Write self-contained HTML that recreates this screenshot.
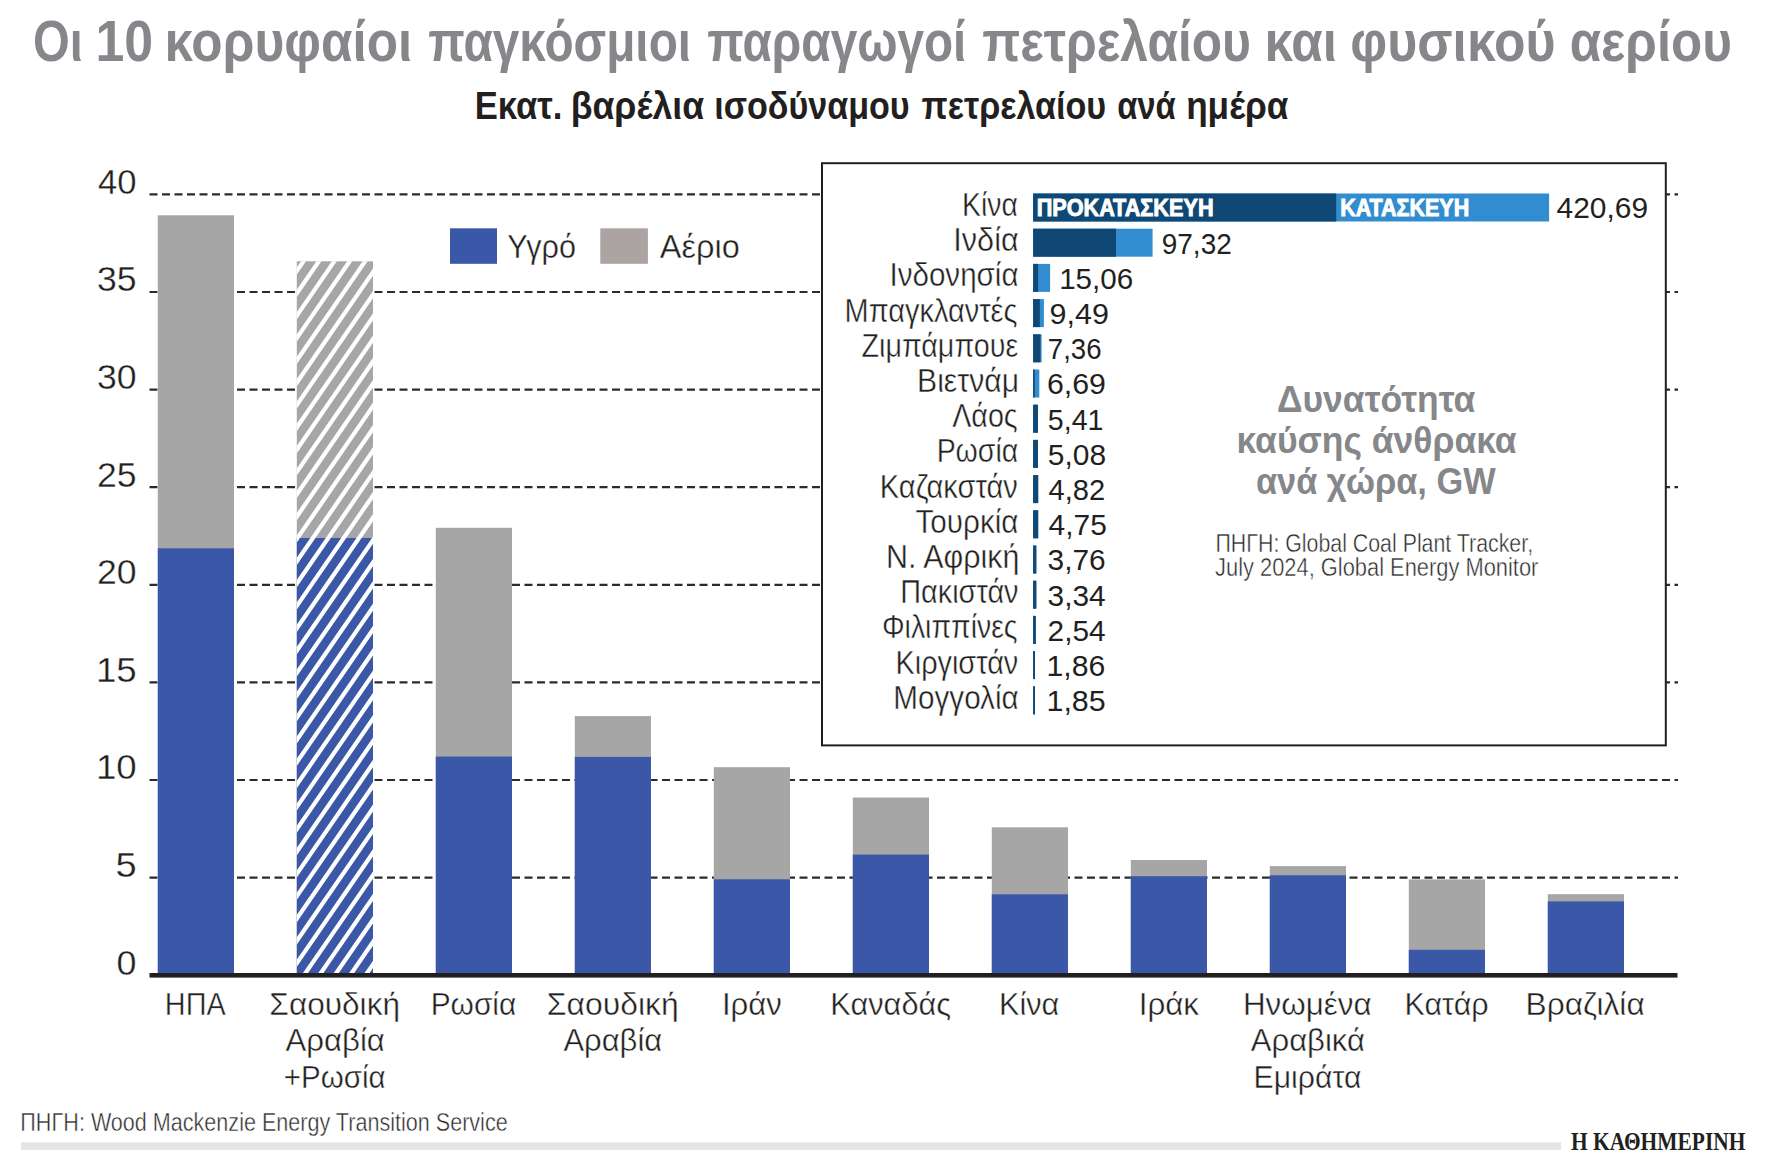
<!DOCTYPE html><html><head><meta charset="utf-8"><style>html,body{margin:0;padding:0;background:#fff;overflow:hidden}svg{display:block}</style></head><body>
<svg width="1785" height="1167" viewBox="0 0 1785 1167">
<defs>
</defs>
<rect width="1785" height="1167" fill="#fff"/>
<line x1="149.5" y1="877.6" x2="1678" y2="877.6" stroke="#2b2b2b" stroke-width="2.2" stroke-dasharray="8 4.5"/>
<line x1="149.5" y1="780.0" x2="1678" y2="780.0" stroke="#2b2b2b" stroke-width="2.2" stroke-dasharray="8 4.5"/>
<line x1="149.5" y1="682.4" x2="1678" y2="682.4" stroke="#2b2b2b" stroke-width="2.2" stroke-dasharray="8 4.5"/>
<line x1="149.5" y1="584.8" x2="1678" y2="584.8" stroke="#2b2b2b" stroke-width="2.2" stroke-dasharray="8 4.5"/>
<line x1="149.5" y1="487.2" x2="1678" y2="487.2" stroke="#2b2b2b" stroke-width="2.2" stroke-dasharray="8 4.5"/>
<line x1="149.5" y1="389.6" x2="1678" y2="389.6" stroke="#2b2b2b" stroke-width="2.2" stroke-dasharray="8 4.5"/>
<line x1="149.5" y1="292.0" x2="1678" y2="292.0" stroke="#2b2b2b" stroke-width="2.2" stroke-dasharray="8 4.5"/>
<line x1="149.5" y1="194.4" x2="1678" y2="194.4" stroke="#2b2b2b" stroke-width="2.2" stroke-dasharray="8 4.5"/>
<rect x="157.8" y="215.3" width="76.2" height="759.7" fill="#a6a6a6"/>
<rect x="157.8" y="548.3" width="76.2" height="426.7" fill="#3a57a8"/>
<rect x="296.8" y="261.3" width="76.2" height="713.7" fill="#a6a6a6"/>
<rect x="296.8" y="538" width="76.2" height="437.0" fill="#3a57a8"/>
<clipPath id="hc"><rect x="296.8" y="261.3" width="76.2" height="713.7"/></clipPath>
<path clip-path="url(#hc)" d="M-612.71,250L-1116.16,980M-597.31,250L-1100.76,980M-581.91,250L-1085.36,980M-566.51,250L-1069.96,980M-551.11,250L-1054.56,980M-535.71,250L-1039.16,980M-520.31,250L-1023.76,980M-504.91,250L-1008.36,980M-489.51,250L-992.96,980M-474.11,250L-977.56,980M-458.71,250L-962.16,980M-443.31,250L-946.76,980M-427.91,250L-931.36,980M-412.51,250L-915.96,980M-397.11,250L-900.56,980M-381.71,250L-885.16,980M-366.31,250L-869.76,980M-350.91,250L-854.36,980M-335.51,250L-838.96,980M-320.11,250L-823.56,980M-304.71,250L-808.16,980M-289.31,250L-792.76,980M-273.91,250L-777.36,980M-258.51,250L-761.96,980M-243.11,250L-746.56,980M-227.71,250L-731.16,980M-212.31,250L-715.76,980M-196.91,250L-700.36,980M-181.51,250L-684.96,980M-166.11,250L-669.56,980M-150.71,250L-654.16,980M-135.31,250L-638.76,980M-119.91,250L-623.36,980M-104.51,250L-607.96,980M-89.11,250L-592.56,980M-73.71,250L-577.16,980M-58.31,250L-561.76,980M-42.91,250L-546.36,980M-27.51,250L-530.96,980M-12.11,250L-515.56,980M3.29,250L-500.16,980M18.69,250L-484.76,980M34.09,250L-469.36,980M49.49,250L-453.96,980M64.89,250L-438.56,980M80.29,250L-423.16,980M95.69,250L-407.76,980M111.09,250L-392.36,980M126.49,250L-376.96,980M141.89,250L-361.56,980M157.29,250L-346.16,980M172.69,250L-330.76,980M188.09,250L-315.36,980M203.49,250L-299.96,980M218.89,250L-284.56,980M234.29,250L-269.16,980M249.69,250L-253.76,980M265.09,250L-238.36,980M280.49,250L-222.96,980M295.89,250L-207.56,980M311.29,250L-192.16,980M326.69,250L-176.76,980M342.09,250L-161.36,980M357.49,250L-145.96,980M372.89,250L-130.56,980M388.29,250L-115.16,980M403.69,250L-99.76,980M419.09,250L-84.36,980M434.49,250L-68.96,980M449.89,250L-53.56,980M465.29,250L-38.16,980M480.69,250L-22.76,980M496.09,250L-7.36,980M511.49,250L8.04,980M526.89,250L23.44,980M542.29,250L38.84,980M557.69,250L54.24,980M573.09,250L69.64,980M588.49,250L85.04,980M603.89,250L100.44,980M619.29,250L115.84,980M634.69,250L131.24,980M650.09,250L146.64,980M665.49,250L162.04,980M680.89,250L177.44,980M696.29,250L192.84,980M711.69,250L208.24,980M727.09,250L223.64,980M742.49,250L239.04,980M757.89,250L254.44,980M773.29,250L269.84,980M788.69,250L285.24,980M804.09,250L300.64,980M819.49,250L316.04,980M834.89,250L331.44,980M850.29,250L346.84,980M865.69,250L362.24,980M881.09,250L377.64,980" stroke="#fff" stroke-width="4.2"/>
<rect x="435.8" y="527.8" width="76.2" height="447.2" fill="#a6a6a6"/>
<rect x="435.8" y="756.6" width="76.2" height="218.4" fill="#3a57a8"/>
<rect x="574.8" y="716.1" width="76.2" height="258.9" fill="#a6a6a6"/>
<rect x="574.8" y="756.9" width="76.2" height="218.1" fill="#3a57a8"/>
<rect x="713.8" y="767.2" width="76.2" height="207.8" fill="#a6a6a6"/>
<rect x="713.8" y="879.3" width="76.2" height="95.7" fill="#3a57a8"/>
<rect x="852.8" y="797.5" width="76.2" height="177.5" fill="#a6a6a6"/>
<rect x="852.8" y="854.6" width="76.2" height="120.4" fill="#3a57a8"/>
<rect x="991.8" y="827.3" width="76.2" height="147.7" fill="#a6a6a6"/>
<rect x="991.8" y="894.3" width="76.2" height="80.7" fill="#3a57a8"/>
<rect x="1130.8" y="860" width="76.2" height="115.0" fill="#a6a6a6"/>
<rect x="1130.8" y="876.2" width="76.2" height="98.8" fill="#3a57a8"/>
<rect x="1269.8" y="866.1" width="76.2" height="108.9" fill="#a6a6a6"/>
<rect x="1269.8" y="875.3" width="76.2" height="99.7" fill="#3a57a8"/>
<rect x="1408.8" y="879.4" width="76.2" height="95.6" fill="#a6a6a6"/>
<rect x="1408.8" y="949.8" width="76.2" height="25.2" fill="#3a57a8"/>
<rect x="1547.8" y="894.2" width="76.2" height="80.8" fill="#a6a6a6"/>
<rect x="1547.8" y="901.4" width="76.2" height="73.6" fill="#3a57a8"/>
<rect x="149.5" y="973" width="1528" height="4.6" fill="#231f20"/>
<rect x="450" y="228.3" width="47" height="35.5" fill="#3a57a8"/>
<rect x="600.3" y="228.3" width="47.6" height="35.5" fill="#aba4a3"/>
<rect x="822" y="163.2" width="843.8" height="582.2" fill="#fff" stroke="#231f20" stroke-width="2"/>
<rect x="1033.1" y="193.5" width="516.0" height="28" fill="#318dcf"/>
<rect x="1033.1" y="193.5" width="303.1" height="28" fill="#0f4874"/>
<rect x="1033.1" y="228.7" width="119.5" height="28" fill="#318dcf"/>
<rect x="1033.1" y="228.7" width="82.9" height="28" fill="#0f4874"/>
<rect x="1033.1" y="263.9" width="17.0" height="28" fill="#318dcf"/>
<rect x="1033.1" y="263.9" width="5.0" height="28" fill="#0f4874"/>
<rect x="1033.1" y="299.1" width="10.8" height="28" fill="#318dcf"/>
<rect x="1033.1" y="299.1" width="6.7" height="28" fill="#0f4874"/>
<rect x="1033.1" y="334.3" width="8.5" height="28" fill="#318dcf"/>
<rect x="1033.1" y="334.3" width="7.3" height="28" fill="#0f4874"/>
<rect x="1033.1" y="369.5" width="6.2" height="28" fill="#318dcf"/>
<rect x="1033.1" y="369.5" width="1.6" height="28" fill="#0f4874"/>
<rect x="1033.1" y="404.7" width="4.9" height="28" fill="#318dcf"/>
<rect x="1033.1" y="404.7" width="4.9" height="28" fill="#0f4874"/>
<rect x="1033.1" y="439.9" width="4.9" height="28" fill="#318dcf"/>
<rect x="1033.1" y="439.9" width="4.9" height="28" fill="#0f4874"/>
<rect x="1033.1" y="475.1" width="5.1" height="28" fill="#318dcf"/>
<rect x="1033.1" y="475.1" width="5.1" height="28" fill="#0f4874"/>
<rect x="1033.1" y="510.3" width="5.1" height="28" fill="#318dcf"/>
<rect x="1033.1" y="510.3" width="5.1" height="28" fill="#0f4874"/>
<rect x="1033.1" y="545.5" width="3.2" height="28" fill="#318dcf"/>
<rect x="1033.1" y="545.5" width="3.2" height="28" fill="#0f4874"/>
<rect x="1033.1" y="580.7" width="3.2" height="28" fill="#318dcf"/>
<rect x="1033.1" y="580.7" width="3.2" height="28" fill="#0f4874"/>
<rect x="1033.1" y="615.9" width="2.7" height="28" fill="#318dcf"/>
<rect x="1033.1" y="615.9" width="2.7" height="28" fill="#0f4874"/>
<rect x="1033.1" y="651.1" width="1.9" height="28" fill="#318dcf"/>
<rect x="1033.1" y="651.1" width="1.9" height="28" fill="#0f4874"/>
<rect x="1033.1" y="686.3" width="1.9" height="28" fill="#318dcf"/>
<rect x="1033.1" y="686.3" width="1.9" height="28" fill="#0f4874"/>
<rect x="21" y="1142.3" width="1540" height="7.6" fill="#e4e4e4"/>
<text x="32.98" y="60.8" font-family="Liberation Sans" font-size="58" font-weight="bold" fill="#85878a" textLength="49.89" lengthAdjust="spacingAndGlyphs">Οι</text>
<text x="95.38" y="60.8" font-family="Liberation Sans" font-size="58" font-weight="bold" fill="#85878a" textLength="57.74" lengthAdjust="spacingAndGlyphs">10</text>
<text x="164.49" y="60.8" font-family="Liberation Sans" font-size="58" font-weight="bold" fill="#85878a" textLength="247.77" lengthAdjust="spacingAndGlyphs">κορυφαίοι</text>
<text x="428.28" y="60.8" font-family="Liberation Sans" font-size="58" font-weight="bold" fill="#85878a" textLength="262.78" lengthAdjust="spacingAndGlyphs">παγκόσμιοι</text>
<text x="707.29" y="60.8" font-family="Liberation Sans" font-size="58" font-weight="bold" fill="#85878a" textLength="259.09" lengthAdjust="spacingAndGlyphs">παραγωγοί</text>
<text x="982.23" y="60.8" font-family="Liberation Sans" font-size="58" font-weight="bold" fill="#85878a" textLength="268.80" lengthAdjust="spacingAndGlyphs">πετρελαίου</text>
<text x="1264.52" y="60.8" font-family="Liberation Sans" font-size="58" font-weight="bold" fill="#85878a" textLength="72.56" lengthAdjust="spacingAndGlyphs">και</text>
<text x="1350.30" y="60.8" font-family="Liberation Sans" font-size="58" font-weight="bold" fill="#85878a" textLength="205.23" lengthAdjust="spacingAndGlyphs">φυσικού</text>
<text x="1569.71" y="60.8" font-family="Liberation Sans" font-size="58" font-weight="bold" fill="#85878a" textLength="162.24" lengthAdjust="spacingAndGlyphs">αερίου</text>
<text x="474.74" y="118.8" font-family="Liberation Sans" font-size="38" font-weight="bold" fill="#231f20" textLength="87.70" lengthAdjust="spacingAndGlyphs">Εκατ.</text>
<text x="570.66" y="118.8" font-family="Liberation Sans" font-size="38" font-weight="bold" fill="#231f20" textLength="133.47" lengthAdjust="spacingAndGlyphs">βαρέλια</text>
<text x="714.32" y="118.8" font-family="Liberation Sans" font-size="38" font-weight="bold" fill="#231f20" textLength="195.37" lengthAdjust="spacingAndGlyphs">ισοδύναμου</text>
<text x="921.61" y="118.8" font-family="Liberation Sans" font-size="38" font-weight="bold" fill="#231f20" textLength="184.51" lengthAdjust="spacingAndGlyphs">πετρελαίου</text>
<text x="1117.16" y="118.8" font-family="Liberation Sans" font-size="38" font-weight="bold" fill="#231f20" textLength="58.62" lengthAdjust="spacingAndGlyphs">ανά</text>
<text x="1186.13" y="118.8" font-family="Liberation Sans" font-size="38" font-weight="bold" fill="#231f20" textLength="102.30" lengthAdjust="spacingAndGlyphs">ημέρα</text>
<text x="116.63" y="974.7" font-family="Liberation Sans" font-size="34.3" font-weight="normal" fill="#231f20" textLength="19.96" lengthAdjust="spacingAndGlyphs" stroke="#fff" stroke-width="0.3">0</text>
<text x="115.55" y="877.0" font-family="Liberation Sans" font-size="34.3" font-weight="normal" fill="#231f20" textLength="21.16" lengthAdjust="spacingAndGlyphs" stroke="#fff" stroke-width="0.3">5</text>
<text x="95.90" y="779.4" font-family="Liberation Sans" font-size="34.3" font-weight="normal" fill="#231f20" textLength="40.77" lengthAdjust="spacingAndGlyphs" stroke="#fff" stroke-width="0.3">10</text>
<text x="95.90" y="681.8" font-family="Liberation Sans" font-size="34.3" font-weight="normal" fill="#231f20" textLength="40.77" lengthAdjust="spacingAndGlyphs" stroke="#fff" stroke-width="0.3">15</text>
<text x="97.01" y="584.2" font-family="Liberation Sans" font-size="34.3" font-weight="normal" fill="#231f20" textLength="39.59" lengthAdjust="spacingAndGlyphs" stroke="#fff" stroke-width="0.3">20</text>
<text x="97.01" y="486.6" font-family="Liberation Sans" font-size="34.3" font-weight="normal" fill="#231f20" textLength="39.59" lengthAdjust="spacingAndGlyphs" stroke="#fff" stroke-width="0.3">25</text>
<text x="97.02" y="389.0" font-family="Liberation Sans" font-size="34.3" font-weight="normal" fill="#231f20" textLength="39.60" lengthAdjust="spacingAndGlyphs" stroke="#fff" stroke-width="0.3">30</text>
<text x="97.02" y="291.4" font-family="Liberation Sans" font-size="34.3" font-weight="normal" fill="#231f20" textLength="39.60" lengthAdjust="spacingAndGlyphs" stroke="#fff" stroke-width="0.3">35</text>
<text x="98.02" y="193.8" font-family="Liberation Sans" font-size="34.3" font-weight="normal" fill="#231f20" textLength="38.51" lengthAdjust="spacingAndGlyphs" stroke="#fff" stroke-width="0.3">40</text>
<text x="507.30" y="257.9" font-family="Liberation Sans" font-size="34" font-weight="normal" fill="#231f20" textLength="68.61" lengthAdjust="spacingAndGlyphs" stroke="#fff" stroke-width="0.4">Υγρό</text>
<text x="659.76" y="257.9" font-family="Liberation Sans" font-size="34" font-weight="normal" fill="#231f20" textLength="79.96" lengthAdjust="spacingAndGlyphs" stroke="#fff" stroke-width="0.4">Αέριο</text>
<text x="164.87" y="1014.8" font-family="Liberation Sans" font-size="32" font-weight="normal" fill="#231f20" textLength="60.92" lengthAdjust="spacingAndGlyphs" stroke="#fff" stroke-width="0.4">ΗΠΑ</text>
<text x="269.36" y="1014.8" font-family="Liberation Sans" font-size="32" font-weight="normal" fill="#231f20" textLength="130.64" lengthAdjust="spacingAndGlyphs" stroke="#fff" stroke-width="0.4">Σαουδική</text>
<text x="285.46" y="1050.9" font-family="Liberation Sans" font-size="32" font-weight="normal" fill="#231f20" textLength="99.41" lengthAdjust="spacingAndGlyphs" stroke="#fff" stroke-width="0.4">Αραβία</text>
<text x="283.80" y="1087.9" font-family="Liberation Sans" font-size="32" font-weight="normal" fill="#231f20" textLength="101.68" lengthAdjust="spacingAndGlyphs" stroke="#fff" stroke-width="0.4">+Ρωσία</text>
<text x="430.70" y="1014.8" font-family="Liberation Sans" font-size="32" font-weight="normal" fill="#231f20" textLength="85.57" lengthAdjust="spacingAndGlyphs" stroke="#fff" stroke-width="0.4">Ρωσία</text>
<text x="546.85" y="1014.8" font-family="Liberation Sans" font-size="32" font-weight="normal" fill="#231f20" textLength="131.93" lengthAdjust="spacingAndGlyphs" stroke="#fff" stroke-width="0.4">Σαουδική</text>
<text x="563.45" y="1050.9" font-family="Liberation Sans" font-size="32" font-weight="normal" fill="#231f20" textLength="98.74" lengthAdjust="spacingAndGlyphs" stroke="#fff" stroke-width="0.4">Αραβία</text>
<text x="721.98" y="1014.8" font-family="Liberation Sans" font-size="32" font-weight="normal" fill="#231f20" textLength="59.95" lengthAdjust="spacingAndGlyphs" stroke="#fff" stroke-width="0.4">Ιράν</text>
<text x="830.25" y="1014.8" font-family="Liberation Sans" font-size="32" font-weight="normal" fill="#231f20" textLength="120.94" lengthAdjust="spacingAndGlyphs" stroke="#fff" stroke-width="0.4">Καναδάς</text>
<text x="998.91" y="1014.8" font-family="Liberation Sans" font-size="32" font-weight="normal" fill="#231f20" textLength="60.39" lengthAdjust="spacingAndGlyphs" stroke="#fff" stroke-width="0.4">Κίνα</text>
<text x="1138.69" y="1014.8" font-family="Liberation Sans" font-size="32" font-weight="normal" fill="#231f20" textLength="60.31" lengthAdjust="spacingAndGlyphs" stroke="#fff" stroke-width="0.4">Ιράκ</text>
<text x="1242.94" y="1014.8" font-family="Liberation Sans" font-size="32" font-weight="normal" fill="#231f20" textLength="128.67" lengthAdjust="spacingAndGlyphs" stroke="#fff" stroke-width="0.4">Ηνωμένα</text>
<text x="1250.77" y="1050.9" font-family="Liberation Sans" font-size="32" font-weight="normal" fill="#231f20" textLength="114.21" lengthAdjust="spacingAndGlyphs" stroke="#fff" stroke-width="0.4">Αραβικά</text>
<text x="1253.58" y="1087.9" font-family="Liberation Sans" font-size="32" font-weight="normal" fill="#231f20" textLength="107.74" lengthAdjust="spacingAndGlyphs" stroke="#fff" stroke-width="0.4">Εμιράτα</text>
<text x="1404.56" y="1014.8" font-family="Liberation Sans" font-size="32" font-weight="normal" fill="#231f20" textLength="84.10" lengthAdjust="spacingAndGlyphs" stroke="#fff" stroke-width="0.4">Κατάρ</text>
<text x="1525.59" y="1014.8" font-family="Liberation Sans" font-size="32" font-weight="normal" fill="#231f20" textLength="119.12" lengthAdjust="spacingAndGlyphs" stroke="#fff" stroke-width="0.4">Βραζιλία</text>
<text x="962.08" y="215.9" font-family="Liberation Sans" font-size="33" font-weight="normal" fill="#231f20" textLength="55.73" lengthAdjust="spacingAndGlyphs" stroke="#fff" stroke-width="0.4">Κίνα</text>
<text x="1556.59" y="218.3" font-family="Liberation Sans" font-size="29" font-weight="normal" fill="#231f20" textLength="91.48" lengthAdjust="spacingAndGlyphs">420,69</text>
<text x="953.31" y="251.1" font-family="Liberation Sans" font-size="33" font-weight="normal" fill="#231f20" textLength="65.39" lengthAdjust="spacingAndGlyphs" stroke="#fff" stroke-width="0.4">Ινδία</text>
<text x="1161.78" y="253.5" font-family="Liberation Sans" font-size="29" font-weight="normal" fill="#231f20" textLength="69.96" lengthAdjust="spacingAndGlyphs">97,32</text>
<text x="889.44" y="286.3" font-family="Liberation Sans" font-size="33" font-weight="normal" fill="#231f20" textLength="129.10" lengthAdjust="spacingAndGlyphs" stroke="#fff" stroke-width="0.4">Ινδονησία</text>
<text x="1059.16" y="288.7" font-family="Liberation Sans" font-size="29" font-weight="normal" fill="#231f20" textLength="74.09" lengthAdjust="spacingAndGlyphs">15,06</text>
<text x="844.57" y="321.5" font-family="Liberation Sans" font-size="33" font-weight="normal" fill="#231f20" textLength="172.90" lengthAdjust="spacingAndGlyphs" stroke="#fff" stroke-width="0.4">Μπαγκλαντές</text>
<text x="1049.57" y="323.9" font-family="Liberation Sans" font-size="29" font-weight="normal" fill="#231f20" textLength="59.34" lengthAdjust="spacingAndGlyphs">9,49</text>
<text x="861.53" y="356.7" font-family="Liberation Sans" font-size="33" font-weight="normal" fill="#231f20" textLength="156.65" lengthAdjust="spacingAndGlyphs" stroke="#fff" stroke-width="0.4">Ζιμπάμπουε</text>
<text x="1047.80" y="359.1" font-family="Liberation Sans" font-size="29" font-weight="normal" fill="#231f20" textLength="53.71" lengthAdjust="spacingAndGlyphs">7,36</text>
<text x="917.08" y="391.9" font-family="Liberation Sans" font-size="33" font-weight="normal" fill="#231f20" textLength="101.97" lengthAdjust="spacingAndGlyphs" stroke="#fff" stroke-width="0.4">Βιετνάμ</text>
<text x="1046.93" y="394.3" font-family="Liberation Sans" font-size="29" font-weight="normal" fill="#231f20" textLength="58.97" lengthAdjust="spacingAndGlyphs">6,69</text>
<text x="952.19" y="427.1" font-family="Liberation Sans" font-size="33" font-weight="normal" fill="#231f20" textLength="65.51" lengthAdjust="spacingAndGlyphs" stroke="#fff" stroke-width="0.4">Λάος</text>
<text x="1047.84" y="429.5" font-family="Liberation Sans" font-size="29" font-weight="normal" fill="#231f20" textLength="55.59" lengthAdjust="spacingAndGlyphs">5,41</text>
<text x="936.64" y="462.3" font-family="Liberation Sans" font-size="33" font-weight="normal" fill="#231f20" textLength="81.59" lengthAdjust="spacingAndGlyphs" stroke="#fff" stroke-width="0.4">Ρωσία</text>
<text x="1047.75" y="464.7" font-family="Liberation Sans" font-size="29" font-weight="normal" fill="#231f20" textLength="58.32" lengthAdjust="spacingAndGlyphs">5,08</text>
<text x="879.84" y="497.5" font-family="Liberation Sans" font-size="33" font-weight="normal" fill="#231f20" textLength="138.00" lengthAdjust="spacingAndGlyphs" stroke="#fff" stroke-width="0.4">Καζακστάν</text>
<text x="1048.62" y="499.9" font-family="Liberation Sans" font-size="29" font-weight="normal" fill="#231f20" textLength="56.63" lengthAdjust="spacingAndGlyphs">4,82</text>
<text x="915.51" y="532.7" font-family="Liberation Sans" font-size="33" font-weight="normal" fill="#231f20" textLength="103.02" lengthAdjust="spacingAndGlyphs" stroke="#fff" stroke-width="0.4">Τουρκία</text>
<text x="1048.60" y="535.1" font-family="Liberation Sans" font-size="29" font-weight="normal" fill="#231f20" textLength="58.30" lengthAdjust="spacingAndGlyphs">4,75</text>
<text x="885.96" y="567.9" font-family="Liberation Sans" font-size="33" font-weight="normal" fill="#231f20" textLength="133.47" lengthAdjust="spacingAndGlyphs" stroke="#fff" stroke-width="0.4">Ν. Αφρική</text>
<text x="1047.64" y="570.3" font-family="Liberation Sans" font-size="29" font-weight="normal" fill="#231f20" textLength="58.10" lengthAdjust="spacingAndGlyphs">3,76</text>
<text x="900.21" y="603.1" font-family="Liberation Sans" font-size="33" font-weight="normal" fill="#231f20" textLength="118.31" lengthAdjust="spacingAndGlyphs" stroke="#fff" stroke-width="0.4">Πακιστάν</text>
<text x="1047.62" y="605.5" font-family="Liberation Sans" font-size="29" font-weight="normal" fill="#231f20" textLength="58.05" lengthAdjust="spacingAndGlyphs">3,34</text>
<text x="881.89" y="638.3" font-family="Liberation Sans" font-size="33" font-weight="normal" fill="#231f20" textLength="135.70" lengthAdjust="spacingAndGlyphs" stroke="#fff" stroke-width="0.4">Φιλιππίνες</text>
<text x="1047.62" y="640.7" font-family="Liberation Sans" font-size="29" font-weight="normal" fill="#231f20" textLength="58.05" lengthAdjust="spacingAndGlyphs">2,54</text>
<text x="895.49" y="673.5" font-family="Liberation Sans" font-size="33" font-weight="normal" fill="#231f20" textLength="122.75" lengthAdjust="spacingAndGlyphs" stroke="#fff" stroke-width="0.4">Κιργιστάν</text>
<text x="1046.53" y="675.9" font-family="Liberation Sans" font-size="29" font-weight="normal" fill="#231f20" textLength="58.79" lengthAdjust="spacingAndGlyphs">1,86</text>
<text x="893.28" y="708.7" font-family="Liberation Sans" font-size="33" font-weight="normal" fill="#231f20" textLength="125.37" lengthAdjust="spacingAndGlyphs" stroke="#fff" stroke-width="0.4">Μογγολία</text>
<text x="1046.48" y="711.1" font-family="Liberation Sans" font-size="29" font-weight="normal" fill="#231f20" textLength="59.23" lengthAdjust="spacingAndGlyphs">1,85</text>
<text x="1036.67" y="216" font-family="Liberation Sans" font-size="23.5" font-weight="bold" fill="#fff" textLength="176.90" lengthAdjust="spacingAndGlyphs" stroke="#fff" stroke-width="0.9">ΠΡΟΚΑΤΑΣΚΕΥΗ</text>
<text x="1340.23" y="216" font-family="Liberation Sans" font-size="23.5" font-weight="bold" fill="#fff" textLength="128.95" lengthAdjust="spacingAndGlyphs" stroke="#fff" stroke-width="0.9">ΚΑΤΑΣΚΕΥΗ</text>
<text x="1276.97" y="412.1" font-family="Liberation Sans" font-size="37.5" font-weight="bold" fill="#85878a" textLength="198.41" lengthAdjust="spacingAndGlyphs">Δυνατότητα</text>
<text x="1236.49" y="452.8" font-family="Liberation Sans" font-size="37.5" font-weight="bold" fill="#85878a" textLength="280.14" lengthAdjust="spacingAndGlyphs">καύσης άνθρακα</text>
<text x="1255.90" y="494" font-family="Liberation Sans" font-size="37.5" font-weight="bold" fill="#85878a" textLength="239.76" lengthAdjust="spacingAndGlyphs">ανά χώρα, GW</text>
<text x="1215.43" y="551.6" font-family="Liberation Sans" font-size="25" font-weight="normal" fill="#2a2a2a" textLength="317.66" lengthAdjust="spacingAndGlyphs" stroke="#fff" stroke-width="0.45">ΠΗΓΗ: Global Coal Plant Tracker,</text>
<text x="1215.11" y="575.8" font-family="Liberation Sans" font-size="25" font-weight="normal" fill="#2a2a2a" textLength="323.24" lengthAdjust="spacingAndGlyphs" stroke="#fff" stroke-width="0.45">July 2024, Global Energy Monitor</text>
<text x="20.30" y="1130.8" font-family="Liberation Sans" font-size="25" font-weight="normal" fill="#2a2a2a" textLength="487.38" lengthAdjust="spacingAndGlyphs" stroke="#fff" stroke-width="0.45">ΠΗΓΗ: Wood Mackenzie Energy Transition Service</text>
<text x="1571.00" y="1149.9" font-family="Liberation Serif" font-size="25.7" font-weight="bold" fill="#231f20" textLength="174.39" lengthAdjust="spacingAndGlyphs">Η ΚΑΘΗΜΕΡΙΝΗ</text>
</svg></body></html>
